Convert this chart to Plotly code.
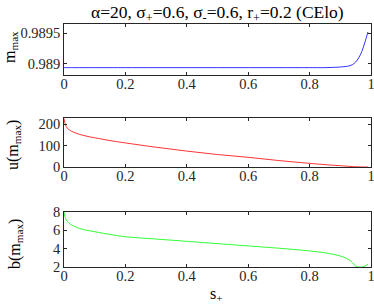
import plotly.graph_objects as go

s = [0, 0.005, 0.01, 0.02, 0.03, 0.05, 0.075, 0.1, 0.15, 0.2, 0.3, 0.4, 0.5, 0.6, 0.7, 0.8,
     0.85, 0.9, 0.92, 0.93, 0.94, 0.95, 0.96, 0.97, 0.98, 0.99]
m_max = [0.98894, 0.98894, 0.98894, 0.98894, 0.98894, 0.98894, 0.98894, 0.98894, 0.98894, 0.98894,
         0.98894, 0.98894, 0.98894, 0.98894, 0.98894, 0.98894, 0.98894, 0.98895, 0.98896, 0.98897,
         0.98899, 0.98903, 0.98910, 0.98920, 0.98935, 0.98952]
u_max = [225, 195, 182, 170, 163, 152, 143, 136, 123, 112, 92, 74, 58, 45, 30, 17,
         11, 6, 4, 3, 2, 1.2, 0.6, 0.3, 0.1, 0]
b_max = [8.0, 7.3, 7.0, 6.7, 6.5, 6.2, 6.0, 5.85, 5.55, 5.3, 5.05, 4.8, 4.55, 4.3, 4.05, 3.75,
         3.55, 3.2, 2.95, 2.75, 2.45, 2.1, 2.0, 2.0, 2.1, 2.3]
xticks = [0, 0.2, 0.4, 0.6, 0.8, 1]
xticklabels = ["0", "0.2", "0.4", "0.6", "0.8", "1"]

H = 305.0
fig = go.Figure()
fig.add_trace(go.Scatter(x=s, y=m_max, mode="lines", line=dict(color="#0000ff", width=0.8, shape="spline"), xaxis="x", yaxis="y"))
fig.add_trace(go.Scatter(x=s, y=u_max, mode="lines", line=dict(color="#ff0000", width=0.8, shape="spline"), xaxis="x2", yaxis="y2"))
fig.add_trace(go.Scatter(x=s, y=b_max, mode="lines", line=dict(color="#00ff00", width=0.8, shape="spline"), xaxis="x3", yaxis="y3"))

SERIF = "Liberation Serif, Times New Roman, serif"
font = dict(family=SERIF, size=14, color="#262626")
ax_common = dict(showline=True, mirror="ticks", ticks="inside", ticklen=3, linecolor="#262626",
                 linewidth=0.6, tickcolor="#262626", showgrid=False, zeroline=False,
                 ticklabeloverflow="allow", automargin=False,
                 tickfont=dict(family=SERIF, size=14.5, color="#262626"))

def dom(top, bot):
    return [1 - bot / H, 1 - top / H]

xa = dict(range=[0, 1], tickvals=xticks, ticktext=xticklabels, ticklabelstandoff=-4, **ax_common)
fig.update_layout(
    template="none",
    width=374, height=305, margin=dict(l=64, r=3, t=0, b=0, autoexpand=False),
    paper_bgcolor="white", plot_bgcolor="white", showlegend=False, font=font,
    xaxis=dict(anchor="y", domain=[0, 1], **xa),
    xaxis2=dict(anchor="y2", domain=[0, 1], **xa),
    xaxis3=dict(anchor="y3", domain=[0, 1], **xa),
    yaxis=dict(anchor="x", domain=dom(24, 75), range=[0.98882, 0.98965],
               tickvals=[0.989, 0.9895], ticktext=["0.989", "0.9895"], **ax_common),
    yaxis2=dict(anchor="x2", domain=dom(118, 167), range=[0, 228],
                tickvals=[0, 100, 200], **ax_common),
    yaxis3=dict(anchor="x3", domain=dom(212, 267), range=[2, 8],
                tickvals=[2, 4, 6, 8], **ax_common),
)

def xp(px):
    return (px - 64) / 307.0

lab = dict(family=SERIF, size=16, color="#000")
common = dict(xref="paper", yref="paper", showarrow=False, xanchor="center", yanchor="middle")
ann = []
ann.append(dict(text="α=20, σ<sub>+</sub>=0.6, σ<sub>-</sub>=0.6, r<sub>+</sub>=0.2 (CElo)",
                x=0.5, y=1 - 13 / H, font=dict(family=SERIF, size=17.5, color="#000"), **common))
ann.append(dict(text="m<sub>max</sub>", x=xp(11), y=1 - 47 / H, textangle=-90, font=lab, **common))
ann.append(dict(text="u(m<sub>max</sub>)", x=xp(13), y=1 - 145 / H, textangle=-90, font=lab, **common))
ann.append(dict(text="b(m<sub>max</sub>)", x=xp(15), y=1 - 244 / H, textangle=-90, font=lab, **common))
ann.append(dict(text="s<sub>+</sub>", x=xp(216), y=1 - 294 / H, font=lab, **common))
fig.update_layout(annotations=ann)

fig.write_html("out.html", config={"displayModeBar": False},
               post_script="document.body.style.margin='0';")
